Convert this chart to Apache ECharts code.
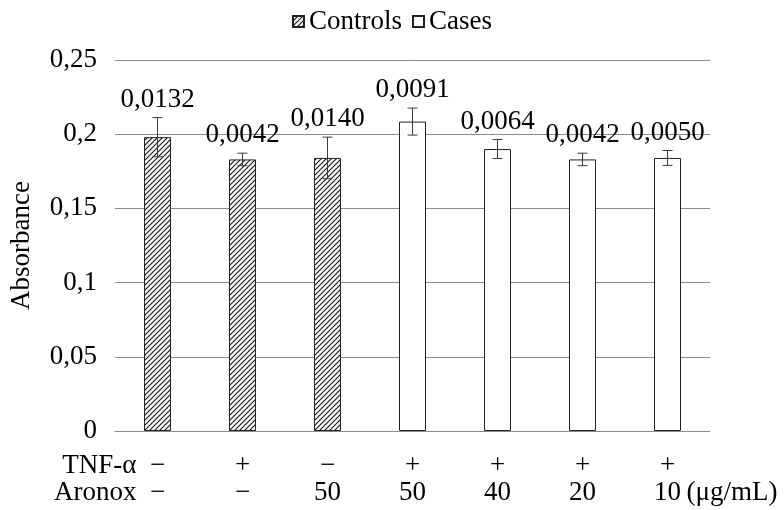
<!DOCTYPE html>
<html>
<head>
<meta charset="utf-8">
<script src="https://cdn.jsdelivr.net/npm/echarts@6/dist/echarts.min.js"></script>
<style>html,body{margin:0;padding:0;background:#fff;}#c{width:784px;height:510px;}</style>
</head>
<body>
<div id="c"></div>
<script>
var categories = ['C1','C2','C3','C4','C5','C6','C7'];
var tnfRow = ['\u2212','+','\u2212','+','+','+','+'];
var aronoxRow = ['\u2212','\u2212','50','50','40','20','10'];
var controlsValues = [0.198, 0.183, 0.184, null, null, null, null];
var casesValues = [null, null, null, 0.2085, 0.190, 0.183, 0.184];
var meanValues = [0.198, 0.183, 0.184, 0.2085, 0.190, 0.183, 0.184];
var errorValues = [0.0132, 0.0042, 0.0140, 0.0091, 0.0064, 0.0042, 0.0050];
var yTicks = [0, 0.05, 0.1, 0.15, 0.2, 0.25];

var FONT = "'Liberation Serif', 'Times New Roman', serif";
var FS = 27;

function makeHatch() {
  var c = document.createElement('canvas');
  var s = 5;
  c.width = s; c.height = s;
  var ctx = c.getContext('2d');
  ctx.fillStyle = '#ffffff';
  ctx.fillRect(0, 0, s, s);
  ctx.strokeStyle = '#1a1a1a';
  ctx.lineWidth = 1.2;
  ctx.beginPath();
  ctx.moveTo(-1, s + 1); ctx.lineTo(s + 1, -1);
  ctx.moveTo(-1, 1); ctx.lineTo(1, -1);
  ctx.moveTo(s - 1, s + 1); ctx.lineTo(s + 1, s - 1);
  ctx.stroke();
  return c;
}

function fmt(v) { return String(v).replace('.', ','); }

var chart = echarts.init(document.getElementById('c'));
var errData = categories.map(function (c, i) { return [i, meanValues[i], errorValues[i]]; });

chart.setOption({
  animation: false,
  textStyle: { fontFamily: FONT },
  legend: {
    top: 3,
    left: 'center',
    icon: 'rect',
    itemWidth: 11,
    itemHeight: 11,
    itemGap: 10,
    data: ['Controls', 'Cases'],
    textStyle: { fontFamily: FONT, fontSize: FS, color: '#000', padding: [0, 0, 0, 0] }
  },
  grid: { left: 113, right: 74, top: 60, bottom: 79 },
  xAxis: {
    type: 'category',
    data: categories,
    axisLine: { lineStyle: { color: '#8c8c8c', width: 1 } },
    axisTick: { show: false },
    axisLabel: {
      margin: 21,
      interval: 0,
      color: '#000',
      fontFamily: FONT,
      fontSize: FS,
      lineHeight: 27,
      formatter: function (v, i) { return tnfRow[i] + '\n' + aronoxRow[i]; }
    }
  },
  yAxis: {
    type: 'value',
    min: 0, max: 0.25, interval: 0.05,
    name: 'Absorbance',
    nameLocation: 'middle',
    nameGap: 80,
    nameTextStyle: { fontFamily: FONT, fontSize: FS, color: '#000' },
    axisLine: { show: false },
    axisTick: { show: false },
    splitLine: { lineStyle: { color: '#8c8c8c', width: 1 } },
    axisLabel: {
      margin: 18,
      color: '#000',
      fontFamily: FONT,
      fontSize: FS,
      formatter: function (v) { return fmt(+v.toFixed(2)); }
    }
  },
  series: [
    {
      name: 'Controls', type: 'bar', data: controlsValues, barWidth: 27, barGap: '-100%',
      itemStyle: { color: { image: makeHatch(), repeat: 'repeat' }, borderColor: '#222', borderWidth: 1 }
    },
    {
      name: 'Cases', type: 'bar', data: casesValues, barWidth: 27, barGap: '-100%',
      itemStyle: { color: '#ffffff', borderColor: '#222', borderWidth: 1 }
    },
    {
      name: 'err', type: 'custom', data: errData, z: 5,
      encode: { x: 0, y: 1 },
      renderItem: function (params, api) {
        var i = params.dataIndex;
        var m = meanValues[i], e = errorValues[i];
        var top = api.coord([i, m + e]);
        var bot = api.coord([i, m - e]);
        var hw = 5;
        var st = { stroke: '#3a3a3a', lineWidth: 1 };
        return {
          type: 'group',
          children: [
            { type: 'line', shape: { x1: top[0], y1: top[1], x2: bot[0], y2: bot[1] }, style: st },
            { type: 'line', shape: { x1: top[0] - hw, y1: top[1], x2: top[0] + hw, y2: top[1] }, style: st },
            { type: 'line', shape: { x1: bot[0] - hw, y1: bot[1], x2: bot[0] + hw, y2: bot[1] }, style: st },
            { type: 'text', x: top[0], y: top[1] - 18,
              style: { text: errorValues[i].toFixed(4).replace('.', ','), align: 'center', verticalAlign: 'middle',
                       fontFamily: FONT, fontSize: FS, fill: '#000' } }
          ]
        };
      }
    }
  ]
});

var p0 = chart.convertToPixel({ xAxisIndex: 0 }, 0);
var p6 = chart.convertToPixel({ xAxisIndex: 0 }, 6);
chart.setOption({
  graphic: [
    { type: 'text', x: p0 - 21, y: 466, style: { text: 'TNF-\u03b1', align: 'right', verticalAlign: 'middle', fontFamily: FONT, fontSize: FS, fill: '#000' } },
    { type: 'text', x: p0 - 21, y: 493, style: { text: 'Aronox', align: 'right', verticalAlign: 'middle', fontFamily: FONT, fontSize: FS, fill: '#000' } },
    { type: 'text', x: p6 + 19, y: 493, style: { text: '(\u03bcg/mL)', align: 'left', verticalAlign: 'middle', fontFamily: FONT, fontSize: FS, fill: '#000' } }
  ]
});
</script>
</body>
</html>
